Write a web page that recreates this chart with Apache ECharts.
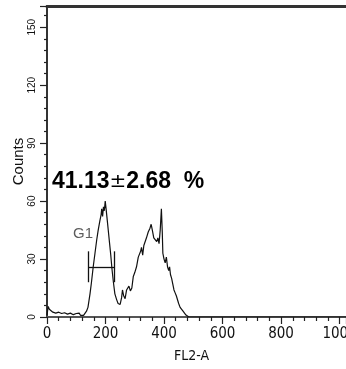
<!DOCTYPE html>
<html>
<head>
<meta charset="utf-8">
<script src="https://cdn.jsdelivr.net/npm/echarts@6/dist/echarts.min.js"></script>
<style>
  html, body { margin: 0; padding: 0; background: #fff; }
  #chart { width: 346px; height: 369px; }
</style>
</head>
<body>
<div id="chart"></div>
<script>
// FL2-A channel values and event counts
const fl2 = [0, 4, 8, 12, 20, 30, 40, 50, 60, 70, 80, 90, 100, 105, 110, 115, 120, 125, 130,
  135, 140, 147, 152, 158, 164, 170, 175, 181, 185, 187, 190, 193, 196, 199, 202, 206, 210,
  214, 218, 222, 227, 232, 238, 243, 247, 250, 255, 258, 262, 267, 272, 276, 280, 285, 290,
  295, 300, 306, 312, 316, 320, 323, 327, 331, 335, 340, 346, 352, 356, 360, 365, 370, 375,
  379, 383, 387, 391, 394, 396, 400, 404, 408, 412, 416, 419, 422, 426, 430, 434, 438, 442,
  446, 450, 455, 460, 465, 470, 475, 480, 485, 1022];
const counts = [1, 5.5, 4, 3, 2.5, 2, 2.5, 1.8, 2.2, 1.5, 2, 1.2, 1.8, 0.8, 2, 0.8, 1.8, 0.8, 1.5,
  3, 5, 12, 18, 26, 33, 40, 45, 50, 53, 56, 52, 57, 55, 60, 56, 50, 44,
  38, 32, 25, 18, 12, 9, 7, 8, 6.5, 10, 14, 11, 9.5, 14, 13, 16, 13.5, 15,
  21, 23, 26, 31, 30, 34, 36, 32, 37, 38, 41, 44, 46, 48, 45, 41, 40, 39,
  41, 38, 45, 56, 44, 33, 30, 28, 31, 26, 24, 26, 22, 20, 17, 14, 12.5, 11,
  10, 7, 5, 4, 3, 2, 1, 0.3, 0, 0];

// G1 gate marker
const gateRange = [141, 229];
const gateLevel = 25.5;
const gateBar = [18, 34];
const gateLabelPos = [123, 43];

const chart = echarts.init(document.getElementById('chart'));

const histData = fl2.map((x, i) => [x, counts[i]]);

const narrow = 'Liberation Sans Narrow, Arial Narrow, DejaVu Sans Condensed, sans-serif';

const option = {
  animation: false,
  grid: { left: 47, right: 0, top: 6, bottom: 52, outerBoundsMode: 'none', containLabel: false },
  xAxis: [
    {
      type: 'value',
      min: 0,
      max: 1022,
      interval: 200,
      name: 'FL2-A',
      nameLocation: 'middle',
      nameGap: 32,
      nameMoveOverlap: false,
      nameTextStyle: { fontFamily: narrow, fontSize: 14, color: '#111', padding: [0, 10, 0, 0] },
      axisLine: { lineStyle: { color: '#555', width: 2 } },
      axisTick: { show: true, length: 7, lineStyle: { color: '#222', width: 1.2 } },
      minorTick: { show: true, splitNumber: 5, length: 4, lineStyle: { color: '#222', width: 1.2 } },
      axisLabel: {
        margin: 10,
        showMaxLabel: false,
        hideOverlap: false,
        formatter: v => String(v),
        fontFamily: narrow,
        fontSize: 15,
        color: '#111'
      },
      splitLine: { show: false }
    },
    {
      type: 'value',
      position: 'top',
      min: 0,
      max: 1022,
      axisLine: { lineStyle: { color: '#333', width: 3 } },
      axisTick: { show: false },
      axisLabel: { show: false },
      splitLine: { show: false }
    }
  ],
  yAxis: {
    type: 'value',
    min: 0,
    max: 161,
    interval: 30,
    offset: 2,
    name: 'Counts',
    nameLocation: 'middle',
    nameGap: 19,
    nameMoveOverlap: false,
    nameTextStyle: { fontFamily: 'Liberation Sans', fontSize: 15, color: '#111' },
    axisLine: { show: true, lineStyle: { color: '#333', width: 2 } },
    axisTick: { show: true, length: 7, lineStyle: { color: '#222', width: 1.2 } },
    minorTick: { show: true, splitNumber: 5, length: 3, lineStyle: { color: '#222', width: 1.2 } },
    axisLabel: {
      rotate: 90,
      margin: 8,
      showMaxLabel: false,
      fontFamily: 'Liberation Sans',
      fontSize: 10,
      color: '#111'
    },
    splitLine: { show: false }
  },
  series: [
    {
      type: 'line',
      data: histData,
      symbol: 'none',
      lineStyle: { color: '#111', width: 1.2 },
      markLine: {
        silent: true,
        symbol: 'none',
        label: { show: false },
        lineStyle: { color: '#111', width: 1.3, type: 'solid' },
        data: [
          [{ coord: [gateRange[0], gateLevel] }, { coord: [gateRange[1], gateLevel] }],
          [{ coord: [gateRange[0], gateBar[0]] }, { coord: [gateRange[0], gateBar[1]] }],
          [{ coord: [gateRange[1], gateBar[0]] }, { coord: [gateRange[1], gateBar[1]] }]
        ]
      }
    },
    {
      type: 'scatter',
      data: [gateLabelPos],
      symbolSize: 0,
      label: {
        show: true,
        position: 'inside',
        formatter: 'G1',
        fontFamily: 'Liberation Sans',
        fontSize: 15,
        color: '#333'
      }
    }
  ],
  graphic: [
    {
      type: 'text',
      left: 52,
      top: 170,
      style: {
        text: '{n|41.13}{pm|\u00b1}{n|2.68  %}',
        rich: {
          n: { fontFamily: 'Liberation Sans', fontWeight: 'bold', fontSize: 23, fill: '#000' },
          pm: { fontFamily: 'DejaVu Sans', fontWeight: 'normal', fontSize: 20, fill: '#000' }
        }
      }
    }
  ]
};

chart.setOption(option);
</script>
</body>
</html>
